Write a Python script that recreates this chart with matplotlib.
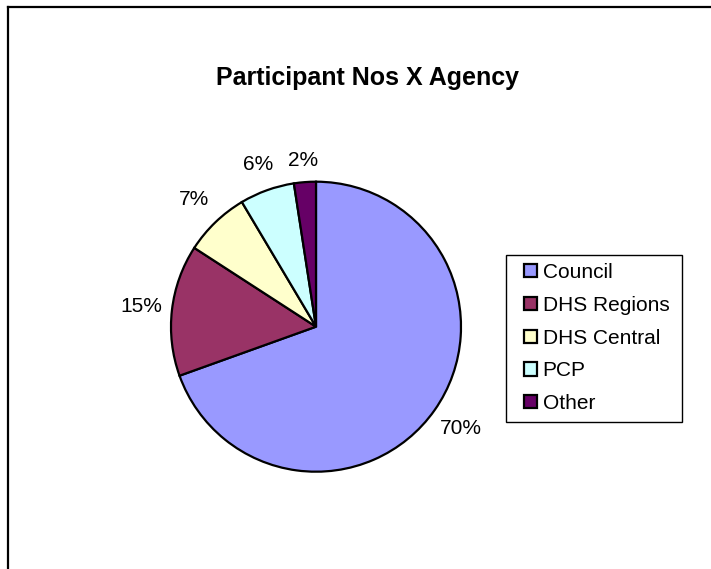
import matplotlib
matplotlib.use("Agg")
import matplotlib.pyplot as plt
from matplotlib.patches import Patch, Rectangle
from matplotlib.lines import Line2D
import numpy as np

categories = ["Council", "DHS Regions", "DHS Central", "PCP", "Other"]
counts = [57, 12, 6, 5, 2]
colors = ["#9999FF", "#993366", "#FFFFCC", "#CCFFFF", "#660066"]
title = "Participant Nos X Agency"

plt.rcParams['font.family'] = ['Liberation Sans', 'DejaVu Sans']

W, H = 711, 569
fig = plt.figure(figsize=(W / 100, H / 100), dpi=100)

# chart border (only top and left visible within the image)
fig.add_artist(Line2D([7.5 / W, 7.5 / W], [0, 1 - 6.5 / H], transform=fig.transFigure,
                      color="black", lw=1.6))
fig.add_artist(Line2D([7.5 / W, 1], [1 - 6.5 / H, 1 - 6.5 / H], transform=fig.transFigure,
                      color="black", lw=1.6))

cx, cy, r = 316, 326.7, 145
ax = fig.add_axes([(cx - r) / W, (H - cy - r) / H, 2 * r / W, 2 * r / H])
total = sum(counts)
pct_labels = [f"{round(100 * c / total):.0f}%" for c in counts]
wedges, texts = ax.pie(counts, colors=colors, startangle=90, counterclock=False,
                       labels=pct_labels, labeldistance=1.2,
                       wedgeprops=dict(edgecolor="black", linewidth=1.6),
                       textprops=dict(fontsize=15))
# outside-end style label placement (centred on each wedge's mid-angle ray)
label_dist = [1.225, 1.21, 1.214, 1.186, 1.15]
for w, t, d in zip(wedges, texts, label_dist):
    ang = np.deg2rad((w.theta1 + w.theta2) / 2)
    t.set_position((d * np.cos(ang), d * np.sin(ang)))
    t.set_ha("center")
    t.set_va("center")
ax.set_xlim(-1, 1)
ax.set_ylim(-1, 1)
ax.set_aspect("equal")
ax.axis("off")

fig.text(367 / W, 1 - 78 / H, title, ha="center", va="center",
         fontsize=18, fontweight="bold")

# legend box
fig.add_artist(Rectangle((506 / W, 1 - 421.5 / H), (682 - 506) / W, (421.5 - 255) / H,
                         transform=fig.transFigure, facecolor="white",
                         edgecolor="black", linewidth=1.0, zorder=2))
handles = [Patch(facecolor=c, edgecolor="black", linewidth=1.6) for c in colors]
leg = fig.legend(handles, categories, loc="upper left",
                 bbox_to_anchor=(524 / W, 1 - 263 / H), frameon=False,
                 fontsize=15, handlelength=0.6, handleheight=0.6, handletextpad=0.3,
                 labelspacing=0.66, borderpad=0, borderaxespad=0)
leg.set_zorder(3)

fig.savefig("out.png", dpi=100)
